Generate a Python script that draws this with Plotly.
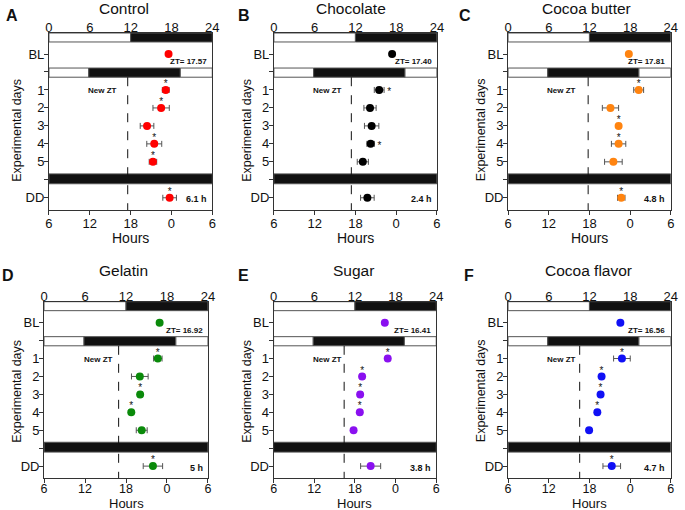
import plotly.graph_objects as go

# panels
names = ["Control", "Chocolate", "Cocoa butter", "Gelatin", "Sugar", "Cocoa flavor"]
letters = ["A", "B", "C", "D", "E", "F"]
colors = ["#ff0000", "#000000", "#ff8410", "#0a8a0a", "#8a10f0", "#1010f5"]
bl_zt = [17.57, 17.40, 17.81, 16.92, 16.41, 16.56]
shift_text = ["6.1 h", "2.4 h", "4.8 h", "5 h", "3.8 h", "4.7 h"]

# rows: BL, days 1-5, DD
row_labels = ["BL", "", "1", "2", "3", "4", "5", "", "DD"]
row_pos = [0, 2, 3, 4, 5, 6, 8]

# phase (h, on the 0-24 ZT scale) for BL, day1..day5, DD
control = [17.57, 17.16, 16.48, 14.41, 15.47, 15.28, 17.73]
control_err = [0.0, 0.5, 1.2, 1.0, 1.1, 0.55, 1.0]
control_star = [0, 1, 1, 0, 1, 1, 1]

chocolate = [17.40, 15.50, 14.15, 14.39, 14.24, 13.09, 13.76]
chocolate_err = [0.0, 0.72, 0.9, 1.06, 0.55, 0.82, 1.0]
chocolate_star = [0, 1, 0, 0, 1, 0, 0]

cocoa_butter = [17.81, 19.26, 15.10, 16.30, 16.30, 15.53, 16.69]
cocoa_butter_err = [0.3, 0.73, 1.2, 0.3, 1.06, 1.3, 0.55]
cocoa_butter_star = [0, 1, 0, 1, 1, 0, 1]

gelatin = [16.92, 16.66, 14.02, 14.07, 12.77, 14.30, 15.94]
gelatin_err = [0.0, 0.62, 1.22, 0.3, 0.0, 0.8, 1.42]
gelatin_star = [0, 1, 0, 1, 1, 0, 1]

sugar = [16.41, 16.84, 13.06, 12.77, 12.72, 11.80, 14.32]
sugar_err = [0.0, 0.3, 0.3, 0.3, 0.3, 0.0, 1.48]
sugar_star = [0, 1, 1, 1, 1, 0, 0]

cocoa_flavor = [16.56, 16.79, 13.79, 13.64, 13.16, 11.95, 15.29]
cocoa_flavor_err = [0.0, 1.23, 0.3, 0.3, 0.3, 0.0, 1.3]
cocoa_flavor_star = [0, 1, 1, 1, 1, 0, 1]

phases = [control, chocolate, cocoa_butter, gelatin, sugar, cocoa_flavor]
errs = [control_err, chocolate_err, cocoa_butter_err, gelatin_err, sugar_err, cocoa_flavor_err]
stars = [control_star, chocolate_star, cocoa_butter_star, gelatin_star, sugar_star, cocoa_flavor_star]

top_ticks = ["0", "6", "12", "18", "24"]
bottom_ticks = ["6", "12", "18", "0", "6"]

W, H = 685, 510
FONT = "Liberation Sans, Arial, sans-serif"

# plot boxes in pixels
box_x = [(45.7, 211.7), (274.3, 440.0), (512.3, 677.7),
         (40.7, 207.3), (274.0, 439.3), (512.3, 677.7)]
box_y = [(33, 210)] * 3 + [(301.7, 478.3)] * 3
title_x = [121.5, 352.5, 592.5, 121.7, 355, 594]
letter_x = [8, 244, 469, 4.5, 243.5, 472.5]
ytitle_x = [13, 246.7, 485, 13, 246.7, 485]

YR = [8.68, -1.17]

fig = go.Figure()
layout = {}
shapes = []
annotations = []

for k in range(6):
    xb = "x" if k == 0 else "x%d" % (k + 1)
    yb = "y" if k == 0 else "y%d" % (k + 1)
    xt = "x%d" % (k + 7)
    x0, x1 = box_x[k]
    y0, y1 = box_y[k]
    dom_x = [x0 / W, x1 / W]
    dom_y = [1 - y1 / H, 1 - y0 / H]
    top_row = k < 3

    layout["xaxis" if k == 0 else "xaxis%d" % (k + 1)] = dict(
        domain=dom_x, anchor=yb, range=[0, 24],
        tickvals=[0, 6, 12, 18, 24], ticktext=bottom_ticks,
        ticks="outside", ticklen=4, tickcolor="#333",
        showline=True, mirror=True, linecolor="#333", linewidth=1,
        showgrid=False, zeroline=False, fixedrange=True,
        ticklabelstandoff=-3 if top_row else -5,
        tickfont=dict(size=13 if top_row else 12.5, color="#111"))
    layout["xaxis%d" % (k + 7)] = dict(
        overlaying=xb, anchor=yb, side="top", range=[0, 24],
        tickvals=[0, 6, 12, 18, 24], ticktext=top_ticks,
        ticks="", showline=False, showgrid=False, zeroline=False,
        ticklabelstandoff=-3,
        fixedrange=True, tickfont=dict(size=13, color="#111"))
    layout["yaxis" if k == 0 else "yaxis%d" % (k + 1)] = dict(
        domain=dom_y, anchor=xb, range=YR,
        tickvals=list(range(9)), ticktext=row_labels,
        ticks="outside", ticklen=4, tickcolor="#333",
        showline=True, mirror=True, linecolor="#333", linewidth=1,
        showgrid=False, zeroline=False, fixedrange=True,
        ticklabelstandoff=-3,
        tickfont=dict(size=13, color="#111"))

    # dummy trace so the top axis is drawn
    fig.add_trace(go.Scatter(x=[0, 24], y=[None, None], xaxis=xt, yaxis=yb,
                             mode="markers", showlegend=False, hoverinfo="skip"))

    # light/dark bars
    def rect(a, b, c, d, fill):
        shapes.append(dict(type="rect", xref=xb, yref=yb, x0=a, x1=b, y0=c, y1=d,
                           fillcolor=fill, line=dict(color="#555", width=1), layer="below"))
    rect(0, 12, -1.17, -0.67, "white")
    rect(12, 24, -1.17, -0.67, "#111")
    rect(0, 5.85, 0.78, 1.29, "white")
    rect(5.85, 19.3, 0.78, 1.29, "#111")
    rect(19.3, 24, 0.78, 1.29, "white")
    rect(0, 24, 6.67, 7.22, "#111")

    # new ZT line
    shapes.append(dict(type="line", xref=xb, yref=yb, x0=bl_zt[k] - 6, x1=bl_zt[k] - 6,
                       y0=1.29, y1=YR[0], line=dict(color="#111", width=1, dash="dash")))

    fig.add_trace(go.Scatter(
        x=phases[k], y=row_pos, xaxis=xb, yaxis=yb, mode="markers",
        marker=dict(color=colors[k], size=8, symbol="circle"),
        error_x=dict(type="data", array=errs[k], color="#555", thickness=1, width=3),
        showlegend=False, hoverinfo="skip"))

    sx, sy = [], []
    for p, e, s, r in zip(phases[k], errs[k], stars[k], row_pos):
        if s:
            if k == 1:
                sx.append(p + e + 0.75)
                sy.append(r + 0.12)
            else:
                sx.append(p)
                sy.append(r - 0.3)
    fig.add_trace(go.Scatter(
        x=sx, y=sy, xaxis=xb, yaxis=yb, mode="text", text=["*"] * len(sx),
        textposition="middle center", textfont=dict(size=10, color="#111", family=FONT),
        showlegend=False, hoverinfo="skip"))

    # in-plot texts
    annotations.append(dict(xref=xb, yref=yb, x=23.5, y=0.42, text="<b>ZT= %.2f</b>" % bl_zt[k],
                            showarrow=False, xanchor="right", font=dict(size=8, color="#111")))
    annotations.append(dict(xref=xb, yref=yb, x=7.9, y=2.05, text="<b>New ZT</b>",
                            showarrow=False, xanchor="center", font=dict(size=8, color="#111")))
    annotations.append(dict(xref=xb, yref=yb, x=23.5, y=8.08, text="<b>%s</b>" % shift_text[k],
                            showarrow=False, xanchor="right", font=dict(size=9, color="#111")))

    # titles
    ty = 8.5 if top_row else 270.8
    annotations.append(dict(xref="paper", yref="paper", x=title_x[k] / W, y=1 - ty / H,
                            text=names[k], showarrow=False, xanchor="center", yanchor="middle",
                            font=dict(size=15.5, color="#111")))
    ly = 15 if top_row else 275
    annotations.append(dict(xref="paper", yref="paper", x=letter_x[k] / W, y=1 - ly / H,
                            text="<b>%s</b>" % letters[k], showarrow=False, xanchor="center",
                            yanchor="middle", font=dict(size=16, color="#111")))
    hy = 238 if top_row else 503.5
    annotations.append(dict(xref="paper", yref="paper", x=(x0 + x1) / 2 / W, y=1 - hy / H,
                            text="Hours", showarrow=False, xanchor="center", yanchor="middle",
                            font=dict(size=14 if top_row else 13, color="#111")))
    vy = 130 if top_row else 391
    annotations.append(dict(xref="paper", yref="paper", x=ytitle_x[k] / W, y=1 - vy / H,
                            text="Experimental days", textangle=-90, showarrow=False,
                            xanchor="center", yanchor="middle",
                            font=dict(size=12.5, color="#111")))

fig.update_layout(**layout)
fig.update_layout(
    width=W, height=H, autosize=False,
    margin=dict(l=0, r=0, t=0, b=0),
    paper_bgcolor="white", plot_bgcolor="white",
    font=dict(family=FONT, color="#111"),
    shapes=shapes, annotations=annotations, showlegend=False)

fig.write_html("out.html", config={"displayModeBar": False},
               post_script="document.body.style.margin='0px';")
